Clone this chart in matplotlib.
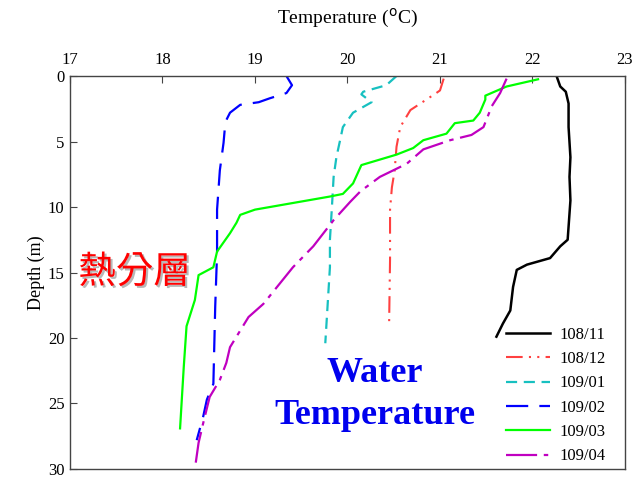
import matplotlib
matplotlib.use('Agg')
import matplotlib.pyplot as plt
import matplotlib.patheffects as pe

# ── Temperature profiles (°C) vs depth (m) ───────────────────────────────────
t_10811 = [22.26, 22.30, 22.36, 22.39, 22.39, 22.41, 22.40, 22.41, 22.38, 22.30,
           22.19, 21.94, 21.83, 21.79, 21.76, 21.68, 21.61]
d_10811 = [0.0, 0.8, 1.2, 2.1, 3.9, 6.2, 7.7, 9.5, 12.5, 13.0,
           13.9, 14.4, 14.8, 16.1, 17.9, 18.9, 19.9]

t_10812 = [21.04, 21.00, 20.96, 20.68, 20.57, 20.53, 20.51, 20.48, 20.46, 20.46, 20.45]
d_10812 = [0.2, 1.1, 1.3, 2.6, 3.9, 5.4, 7.2, 8.5, 10.2, 14.0, 18.9]

t_10901 = [20.53, 20.42, 20.17, 20.15, 20.26, 20.06, 19.95, 19.92, 19.88, 19.85,
           19.83, 19.81, 19.81, 19.76]
d_10901 = [0.0, 0.7, 1.2, 1.4, 2.0, 2.8, 3.9, 4.9, 6.2, 7.7,
           10.2, 12.5, 14.6, 20.4]

t_10902 = [19.34, 19.40, 19.34, 19.16, 19.04, 18.84, 18.73, 18.68, 18.66, 18.62,
           18.59, 18.59, 18.57, 18.55, 18.48, 18.44, 18.37]
d_10902 = [0.0, 0.7, 1.3, 1.7, 2.0, 2.2, 2.8, 3.5, 5.1, 7.2,
           10.2, 13.5, 17.6, 23.5, 24.7, 26.0, 27.8]

t_10903 = [22.06, 21.72, 21.49, 21.49, 21.43, 21.36, 21.16, 21.07, 20.82, 20.71,
           20.53, 20.15, 20.06, 19.95, 19.81, 19.00, 18.84, 18.80, 18.73, 18.59,
           18.55, 18.39, 18.35, 18.26, 18.23, 18.19]
d_10903 = [0.25, 0.8, 1.5, 1.8, 2.8, 3.4, 3.6, 4.4, 4.9, 5.5,
           6.0, 6.8, 8.2, 9.0, 9.2, 10.2, 10.6, 11.2, 12.0, 13.4,
           14.6, 15.2, 17.1, 19.1, 22.2, 26.9]

t_10904 = [21.72, 21.65, 21.56, 21.47, 21.34, 21.11, 20.82, 20.64, 20.35, 20.14,
           20.03, 19.85, 19.63, 19.41, 19.09, 18.93, 18.73, 18.69, 18.62, 18.51,
           18.44, 18.39, 18.35]
d_10904 = [0.2, 1.3, 2.3, 3.9, 4.5, 4.9, 5.6, 6.7, 7.7, 8.8,
           9.6, 11.0, 13.0, 14.6, 17.4, 18.4, 20.7, 21.9, 23.2, 24.5,
           26.5, 28.0, 30.0]

labels = ['108/11', '108/12', '109/01', '109/02', '109/03', '109/04']
x_ticks = [17, 18, 19, 20, 21, 22, 23]
y_ticks = [0, 5, 10, 15, 20, 25, 30]

plt.rcParams['font.family'] = ['Liberation Serif', 'DejaVu Serif']

fig = plt.figure(figsize=(6.34, 4.79), dpi=100)
ax = fig.add_axes([0.1104, 0.0209, 0.8754, 0.8204])

ax.plot(t_10811, d_10811, color='black', lw=1.8, ls='-', label=labels[0])
ax.plot(t_10812, d_10812, color='#ff4040', lw=1.5, ls=(0, (8, 3, 1, 3, 1, 3)), label=labels[1])
ax.plot(t_10901, d_10901, color='#17c0c0', lw=1.6, ls=(0, (5, 3)), label=labels[2])
ax.plot(t_10902, d_10902, color='#0000ff', lw=1.6, ls=(0, (10, 5)), label=labels[3])
ax.plot(t_10903, d_10903, color='#00ff00', lw=1.6, ls='-', label=labels[4])
ax.plot(t_10904, d_10904, color='#c000c0', lw=1.6, ls=(0, (14, 3, 2, 3)), label=labels[5])

ax.set_xlim(17, 23)
ax.set_ylim(30, 0)
ax.set_xticks(x_ticks)
ax.set_yticks(y_ticks)
ax.xaxis.tick_top()
ax.xaxis.set_label_position('top')
ax.tick_params(axis='both', direction='in', labelsize=12, length=5, color='#444444',
               pad=4)
ax.tick_params(axis='x', pad=6)
for s in ax.spines.values():
    s.set_color('#444444')
    s.set_linewidth(1.0)

ax.set_xlabel('Temperature ($^{\\mathrm{o}}$C)', fontsize=14, labelpad=20)
ax.set_ylabel('Depth (m)', fontsize=13, labelpad=2)

ax.legend(loc='lower right', bbox_to_anchor=(0.986, -0.018), frameon=False,
          fontsize=12, handlelength=2.65, handletextpad=0.55, labelspacing=0.5,
          borderaxespad=0.3)

ax.text(0.015, 0.50, '熱分層', transform=ax.transAxes, color='#ff0000',
        fontsize=27, family=['Noto Sans CJK TC', 'DejaVu Sans'], va='center',
        path_effects=[pe.withSimplePatchShadow(offset=(1.5, -1.5),
                                               shadow_rgbFace='#888888', alpha=0.6)])
ax.text(0.550, 0.243, 'Water', transform=ax.transAxes,
        color='#0000ee', fontsize=26, fontweight='bold', ha='center', va='center')
ax.text(0.550, 0.136, 'Temperature', transform=ax.transAxes,
        color='#0000ee', fontsize=26, fontweight='bold', ha='center', va='center')

fig.savefig('out.png', dpi=100)
